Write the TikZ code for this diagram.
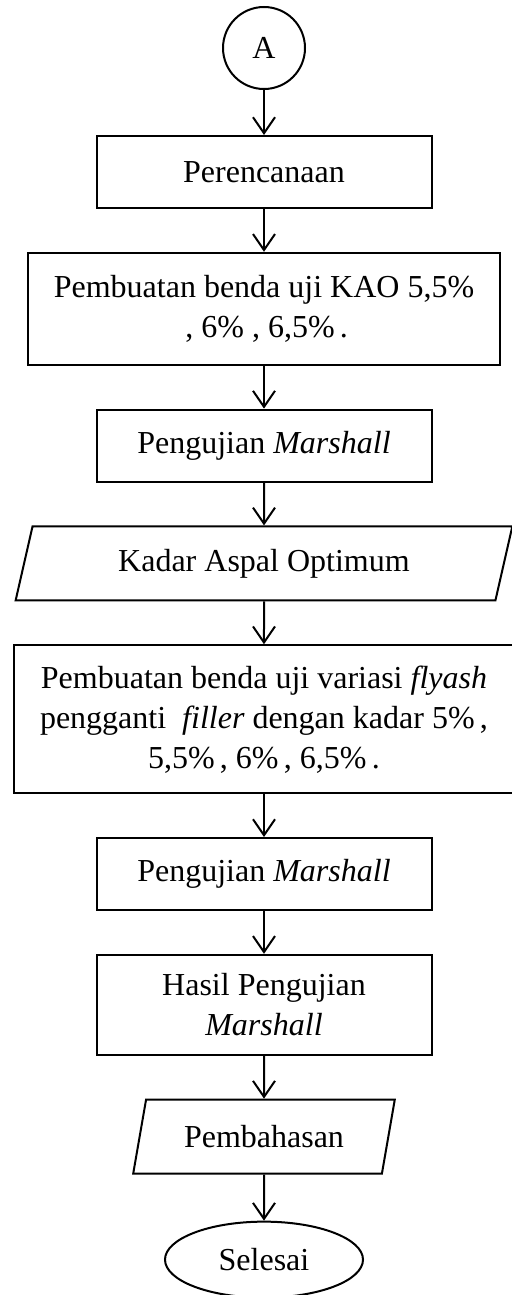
\documentclass[tikz,border=0pt]{standalone}
\usepackage{fontspec}
\setmainfont{Liberation Serif}
\usepackage{tikz}
\usetikzlibrary{positioning,shapes,arrows.meta}
\tikzstyle{cn}=[%
      circle, draw=black, line width=1pt, fill=none,
      minimum size=41pt, inner sep=0pt
]
\tikzstyle{pr}=[%
      rectangle, draw=black, line width=1pt, fill=none,
      minimum height=36pt, minimum width=167.5pt, inner sep=4pt, align=center
]
\tikzstyle{io}=[%
      trapezium, trapezium left angle=76, trapezium right angle=104, trapezium stretches=true,
      draw=black, line width=1pt, fill=none,
      minimum height=37pt, inner sep=4pt, align=center
]
\tikzstyle{tm}=[%
      ellipse, draw=black, line width=1pt, fill=none,
      minimum height=38pt, minimum width=99pt, inner sep=2pt
]

\begin{document}
\begin{tikzpicture}[auto,
    ->,
    >={Straight Barb[length=8pt,width=11pt]},
    line width=1pt,
    node distance=21.4pt,
    font=\fontsize{16}{20}\selectfont
  ]
    \useasboundingbox (0,0) rectangle (256pt,-647.5pt);

    \node[cn]                          (A)     at (132pt,-24pt)  {A};
    \node[pr]                          (plan)  [below=22.5pt of A] {Perencanaan};
    \node[pr, minimum width=236pt, minimum height=56pt]
                                       (kao)   [below=of plan]    {Pembuatan benda uji KAO 5,5\%\\\,, 6\%\ , 6,5\%\,.};
    \node[pr]                          (uji1)  [below=of kao]     {Pengujian \textit{Marshall}};
    \node[io, minimum width=248.5pt]   (opt)   [below=of uji1]    {Kadar Aspal Optimum};
    \node[pr, minimum width=250pt, minimum height=74pt]
                                       (fly)   [below=of opt]     {Pembuatan benda uji variasi \textit{flyash}\\pengganti \ \textit{filler} dengan kadar 5\%\,,\\5,5\%\,, 6\%\,, 6,5\%\,.};
    \node[pr]                          (uji2)  [below=of fly]     {Pengujian \textit{Marshall}};
    \node[pr, minimum height=50pt]     (hasil) [below=of uji2]    {Hasil Pengujian\\\textit{Marshall}};
    \node[io, minimum width=131.5pt]   (bahas) [below=of hasil]   {Pembahasan};
    \node[tm]                          (end)   [below=23pt of bahas] {Selesai};

    \path (A)     edge (plan)
          (plan)  edge (kao)
          (kao)   edge (uji1)
          (uji1)  edge (opt)
          (opt)   edge (fly)
          (fly)   edge (uji2)
          (uji2)  edge (hasil)
          (hasil) edge (bahas)
          (bahas) edge (end)
    ;

  \end{tikzpicture}
\end{document}
